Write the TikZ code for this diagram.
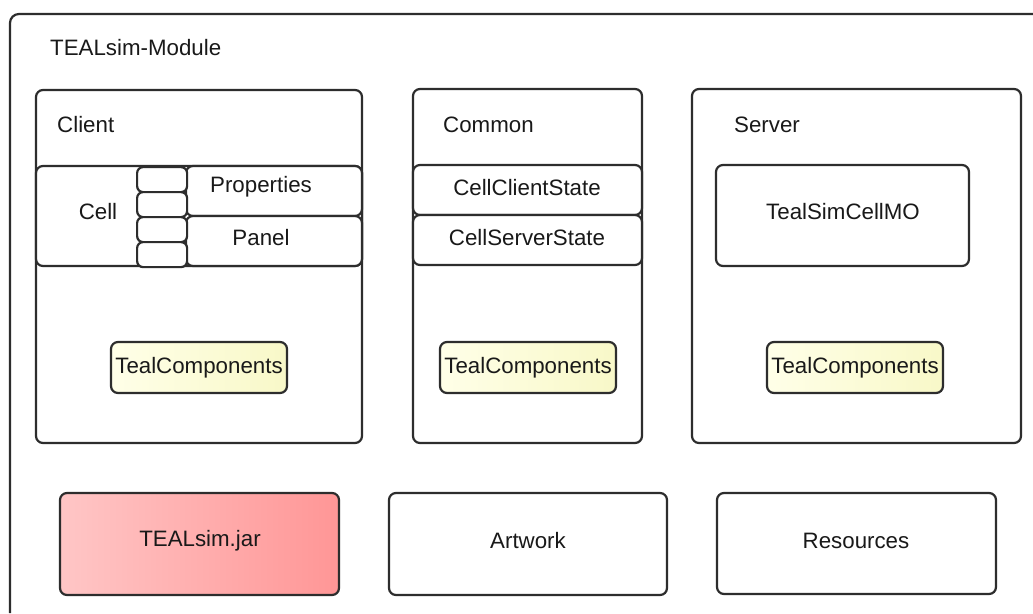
\documentclass[tikz,border=0pt]{standalone}
\usepackage{fontspec}
\setmainfont{Liberation Sans}
\definecolor{edge}{RGB}{45,45,45}
\definecolor{txt}{RGB}{25,25,25}
\definecolor{yelL}{RGB}{255,255,232}
\definecolor{yelR}{RGB}{248,248,200}
\definecolor{redL}{RGB}{255,198,198}
\definecolor{redR}{RGB}{255,150,150}
\begin{document}
\begin{tikzpicture}[x=1pt,y=-1pt,
  box/.style={draw=edge,line width=2.2pt,rounded corners=7pt,fill=white,anchor=north west,inner sep=0pt,outer sep=0pt},
  tab/.style={draw=edge,line width=2.2pt,rounded corners=6pt,fill=white,anchor=north west,inner sep=0pt,minimum width=50pt,minimum height=25pt},
  comp/.style={box,left color=yelL,right color=yelR,minimum width=176pt,minimum height=51pt},
  lbl/.style={font=\fontsize{22.3}{25}\selectfont,text=txt,inner sep=0pt},
  lbll/.style={lbl,anchor=west}]
\useasboundingbox (0,0) rectangle (1033,613);
\fill[white] (0,0) rectangle (1033,613);
% outer module frame (clipped by the page)
\draw[edge,line width=2.2pt,rounded corners=9pt] (10,613) -- (10,14) -- (1033,14);
\node[lbll] (title) at (50,48) {TEALsim-Module};
% Client
\node[box,minimum width=326pt,minimum height=353pt] (client) at (36,90) {};
\node[lbll] (clientl) at (57,125) {Client};
\node[box,minimum width=326pt,minimum height=100pt] (cell) at (36,166) {};
\node[box,minimum width=176pt,minimum height=50pt] (props) at (186,166) {};
\node[box,minimum width=176pt,minimum height=50pt] (panel) at (186,216) {};
\node[tab] (t1) at (136,166) {};
\node[tab] (t2) at (136,191) {};
\node[tab] (t3) at (136,216) {};
\node[tab] (t4) at (136,241) {};
\node[lbl] (celll) at (98,212) {Cell};
\node[lbl] (propsl) at (261,187) {Properties};
\node[lbl] (panell) at (261,238) {Panel};
\node[comp] (tc1) at (111,342) {};
\node[lbl] at (tc1.center) (tc1l) {TealComponents};
% Common
\node[box,minimum width=229pt,minimum height=354pt] (common) at (413,89) {};
\node[lbll] (commonl) at (443,125) {Common};
\node[box,minimum width=229pt,minimum height=50pt] (ccs) at (413,165) {};
\node[box,minimum width=229pt,minimum height=50pt] (css) at (413,215) {};
\node[lbl] (ccsl) at (527,188) {CellClientState};
\node[lbl] (cssl) at (527,238) {CellServerState};
\node[comp] (tc2) at (440,342) {};
\node[lbl] at (tc2.center) (tc2l) {TealComponents};
% Server
\node[box,minimum width=329pt,minimum height=354pt] (server) at (692,89) {};
\node[lbll] (serverl) at (734,125) {Server};
\node[box,minimum width=253pt,minimum height=101pt] (mo) at (716,165) {};
\node[lbl] (mol) at (843,212) {TealSimCellMO};
\node[comp] (tc3) at (767,342) {};
\node[lbl] at (tc3.center) (tc3l) {TealComponents};
% bottom row
\node[box,left color=redL,right color=redR,minimum width=279pt,minimum height=102pt] (jar) at (60,493) {};
\node[lbl] (jarl) at (200,541) {TEALsim.jar};
\node[box,minimum width=278pt,minimum height=102pt] (art) at (389,493) {};
\node[lbl] (artl) at (528,541) {Artwork};
\node[box,minimum width=279pt,minimum height=101pt] (res) at (717,493) {};
\node[lbl] (resl) at (856,541) {Resources};
\end{tikzpicture}
\end{document}
